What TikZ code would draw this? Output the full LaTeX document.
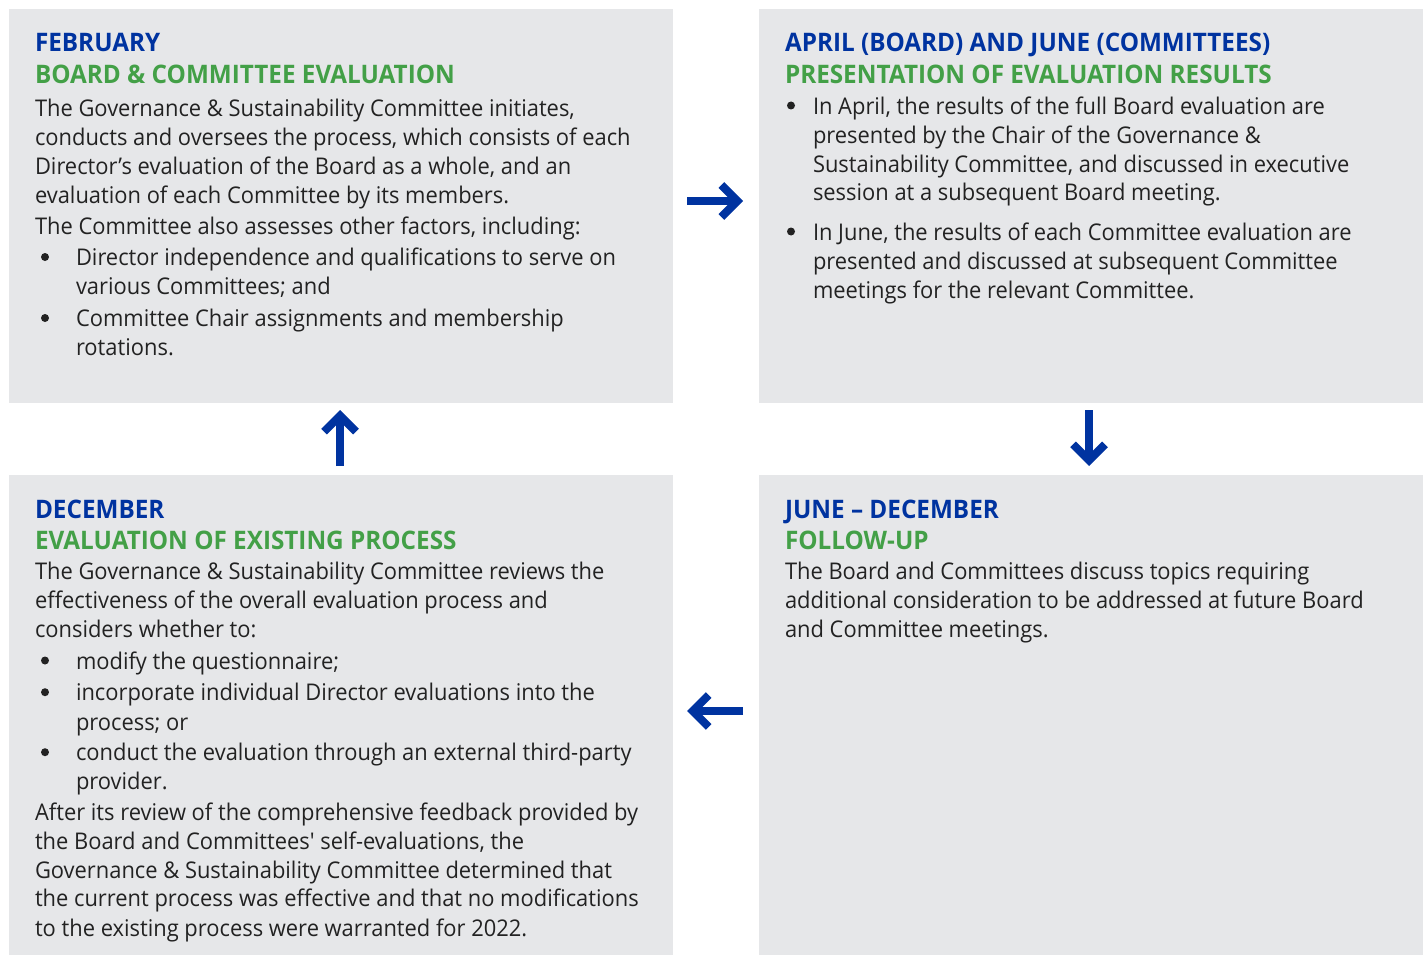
\documentclass[tikz,border=0pt]{standalone}
\usepackage{fontspec}
\setmainfont{Open Sans}[FakeStretch=0.952, Ligatures=TeXOff]
\usetikzlibrary{arrows.meta}
\definecolor{boxgray}{HTML}{E6E7E9}
\definecolor{hblue}{HTML}{0033A0}
\definecolor{hgreen}{HTML}{43A047}
\definecolor{bodytext}{HTML}{222222}
\tikzset{
  panel/.style={fill=boxgray, draw=none, inner sep=0pt, outer sep=0pt, anchor=north west},
  body/.style={anchor=base west, inner sep=0pt, outer sep=0pt, text=bodytext, font=\fontsize{23}{29}\selectfont},
  headblue/.style={anchor=base west, inner sep=0pt, outer sep=0pt, text=hblue, font=\fontsize{25.5}{32}\selectfont\bfseries},
  headgreen/.style={headblue, text=hgreen},
  bulletdot/.style={circle, fill=bodytext, draw=none, inner sep=0pt, minimum size=8pt},
  flow/.style={draw=hblue, line width=8pt, line cap=butt, -{Straight Barb[length=16pt, width=32pt, line join=miter]}}
}
\newcommand\bline[4]{\node[body] (#1) at (#2,#3) {#4};}
\newcommand\bdot[3]{\node[bulletdot] (#1) at (#2,#3-8.5) {};}
\begin{document}
\begin{tikzpicture}[x=1pt,y=-1pt]
\path[use as bounding box] (0,0) rectangle (1426,955);
% panels
\node[panel, minimum width=664pt, minimum height=394pt] (tl) at (9,9) {};
\node[panel, minimum width=664pt, minimum height=394pt] (tr) at (759,9) {};
\node[panel, minimum width=664pt, minimum height=480pt] (bl) at (9,475) {};
\node[panel, minimum width=664pt, minimum height=480pt] (br) at (759,475) {};

% top-left
\node[headblue] (tlh1) at (35,52) {FEBRUARY};
\node[headgreen] (tlh2) at (35,83.5) {BOARD \& COMMITTEE EVALUATION};
\bline{tl1}{35}{116.5}{The Governance \& Sustainability Committee initiates,}
\bline{tl2}{35}{145.5}{conducts and oversees the process, which consists of each}
\bline{tl3}{35}{174.5}{Director’s evaluation of the Board as a whole, and an}
\bline{tl4}{35}{203}{evaluation of each Committee by its members.}
\bline{tl5}{35}{234}{The Committee also assesses other factors, including:}
\bdot{tlb1}{45}{265.5}
\bline{tl6}{76}{265.5}{Director independence and qualifications to serve on}
\bline{tl7}{76}{294.5}{various Committees; and}
\bdot{tlb2}{45}{326.5}
\bline{tl8}{76}{326.5}{Committee Chair assignments and membership}
\bline{tl9}{76}{355.5}{rotations.}

% top-right
\node[headblue] (trh1) at (785,52) {APRIL (BOARD) AND JUNE (COMMITTEES)};
\node[headgreen] (trh2) at (785,83.5) {PRESENTATION OF EVALUATION RESULTS};
\bdot{trb1}{791}{114}
\bline{tr1}{813}{114}{In April, the results of the full Board evaluation are}
\bline{tr2}{813}{143}{presented by the Chair of the Governance \&}
\bline{tr3}{813}{172}{Sustainability Committee, and discussed in executive}
\bline{tr4}{813}{200.5}{session at a subsequent Board meeting.}
\bdot{trb2}{791}{240}
\bline{tr5}{813}{240}{In June, the results of each Committee evaluation are}
\bline{tr6}{813}{269}{presented and discussed at subsequent Committee}
\bline{tr7}{813}{298}{meetings for the relevant Committee.}

% bottom-left
\node[headblue] (blh1) at (35,518.3) {DECEMBER};
\node[headgreen] (blh2) at (35,549.3) {EVALUATION OF EXISTING PROCESS};
\bline{bl1}{35}{579.3}{The Governance \& Sustainability Committee reviews the}
\bline{bl2}{35}{608.3}{effectiveness of the overall evaluation process and}
\bline{bl3}{35}{637}{considers whether to:}
\bdot{blb1}{45}{669}
\bline{bl4}{76}{669}{modify the questionnaire;}
\bdot{blb2}{45}{700.7}
\bline{bl5}{76}{700.7}{incorporate individual Director evaluations into the}
\bline{bl6}{76}{730}{process; or}
\bdot{blb3}{45}{760.7}
\bline{bl7}{76}{760.7}{conduct the evaluation through an external third-party}
\bline{bl8}{76}{789.3}{provider.}
\bline{bl9}{35}{820.7}{After its review of the comprehensive feedback provided by}
\bline{bl10}{35}{849.3}{the Board and Committees' self-evaluations, the}
\bline{bl11}{35}{878.3}{Governance \& Sustainability Committee determined that}
\bline{bl12}{35}{906.7}{the current process was effective and that no modifications}
\bline{bl13}{35}{936.7}{to the existing process were warranted for 2022.}

% bottom-right
\node[headblue] (brh1) at (785,518.3) {JUNE – DECEMBER};
\node[headgreen] (brh2) at (785,549.3) {FOLLOW-UP};
\bline{br1}{785}{579.3}{The Board and Committees discuss topics requiring}
\bline{br2}{785}{608.3}{additional consideration to be addressed at future Board}
\bline{br3}{785}{637}{and Committee meetings.}

% arrows
\coordinate (a1s) at (687,201); \coordinate (a1e) at (743,201);
\coordinate (a2s) at (1089,410); \coordinate (a2e) at (1089,466);
\coordinate (a3s) at (743,711); \coordinate (a3e) at (687,711);
\coordinate (a4s) at (340,466); \coordinate (a4e) at (340,410);
\draw[flow] (a1s) -- (a1e);
\draw[flow] (a2s) -- (a2e);
\draw[flow] (a3s) -- (a3e);
\draw[flow] (a4s) -- (a4e);
\end{tikzpicture}
\end{document}
